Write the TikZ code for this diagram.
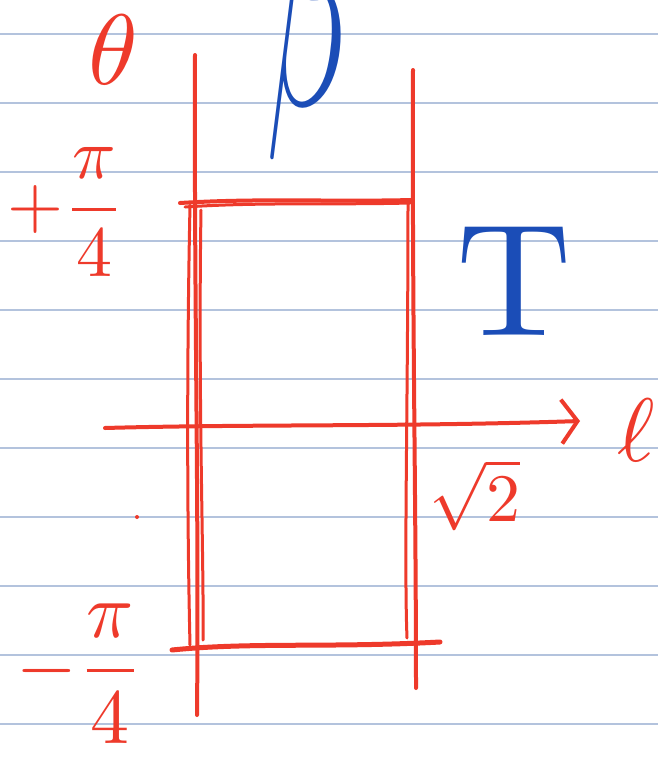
\documentclass[tikz,border=0pt]{standalone}
\usetikzlibrary{arrows.meta}
\definecolor{rule}{HTML}{B3C3DD}
\definecolor{ink}{HTML}{EE3A2B}
\definecolor{bink}{HTML}{1B4DB7}
\tikzset{
  ruled/.style={draw=rule, line width=1.2pt},
  redline/.style={draw=ink, line width=4pt, line cap=round, line join=round},
  thinred/.style={draw=ink, line width=3pt, line cap=round},
  redlabel/.style={text=ink, inner sep=0pt},
  bluelabel/.style={text=bink, inner sep=0pt},
}
\begin{document}
\begin{tikzpicture}[x=1pt,y=-1pt]
\useasboundingbox (0,0) rectangle (658,758);
\clip (0,0) rectangle (658,758);
\fill[white] (0,0) rectangle (658,758);
\foreach \yy in {34,103,172,241,310,379,448,517,586,655,724}
  \draw[ruled] (0,\yy) -- (658,\yy);

% coordinates
\coordinate (lt) at (195,55);
\coordinate (lb) at (197,715);
\coordinate (rt) at (413,70);
\coordinate (rb) at (416,688);
\coordinate (tl) at (180,203);
\coordinate (tr) at (412,200);
\coordinate (bl) at (172,650);
\coordinate (br) at (440,642);
\coordinate (ax0) at (105,428);
\coordinate (ax1) at (580,421);

% verticals
\draw[redline] (lt) .. controls (194,300) and (199,500) .. (lb);
\draw[thinred] (190,205) .. controls (186,400) and (188,560) .. (190,645);
\draw[thinred] (201,210) .. controls (198,400) and (204,560) .. (203,640);
\draw[redline] (rt) .. controls (412,300) and (416,500) .. (rb);
\draw[thinred] (408,200) .. controls (408,400) and (404,560) .. (407,638);
% top and bottom
\draw[redline] (tl) .. controls (260,198) and (330,202) .. (tr);
\draw[thinred] (185,207) .. controls (260,202) and (330,205) .. (410,203);
\draw[redline, line width=5pt] (bl) .. controls (250,642) and (330,648) .. (br);
% axis
\draw[redline, -{Straight Barb[length=16pt,width=44pt,line width=4pt]}] (ax0) .. controls (250,424) and (400,427) .. (ax1);

\fill[ink] (137,517) circle (2pt);

% labels
\node[redlabel, scale=10] (theta) at (113,50) {$\theta$};
\node[redlabel, scale=7.2] (ptop) at (66,212) {$+\displaystyle\frac{\pi}{4}$};
\node[redlabel, scale=7.8] (pbot) at (80,674) {$-\displaystyle\frac{\pi}{4}$};
\node[redlabel, scale=6.8] (root) at (475,495) {$\sqrt{2}$};
\node[redlabel, scale=9] (ell) at (636,430) {$\ell$};
\node[bluelabel, scale=16] (T) at (514,281) {T};
\node[bluelabel, anchor=base west, xscale=14, yscale=28] (beta) at (264,105) {$\beta$};
\end{tikzpicture}
\end{document}
